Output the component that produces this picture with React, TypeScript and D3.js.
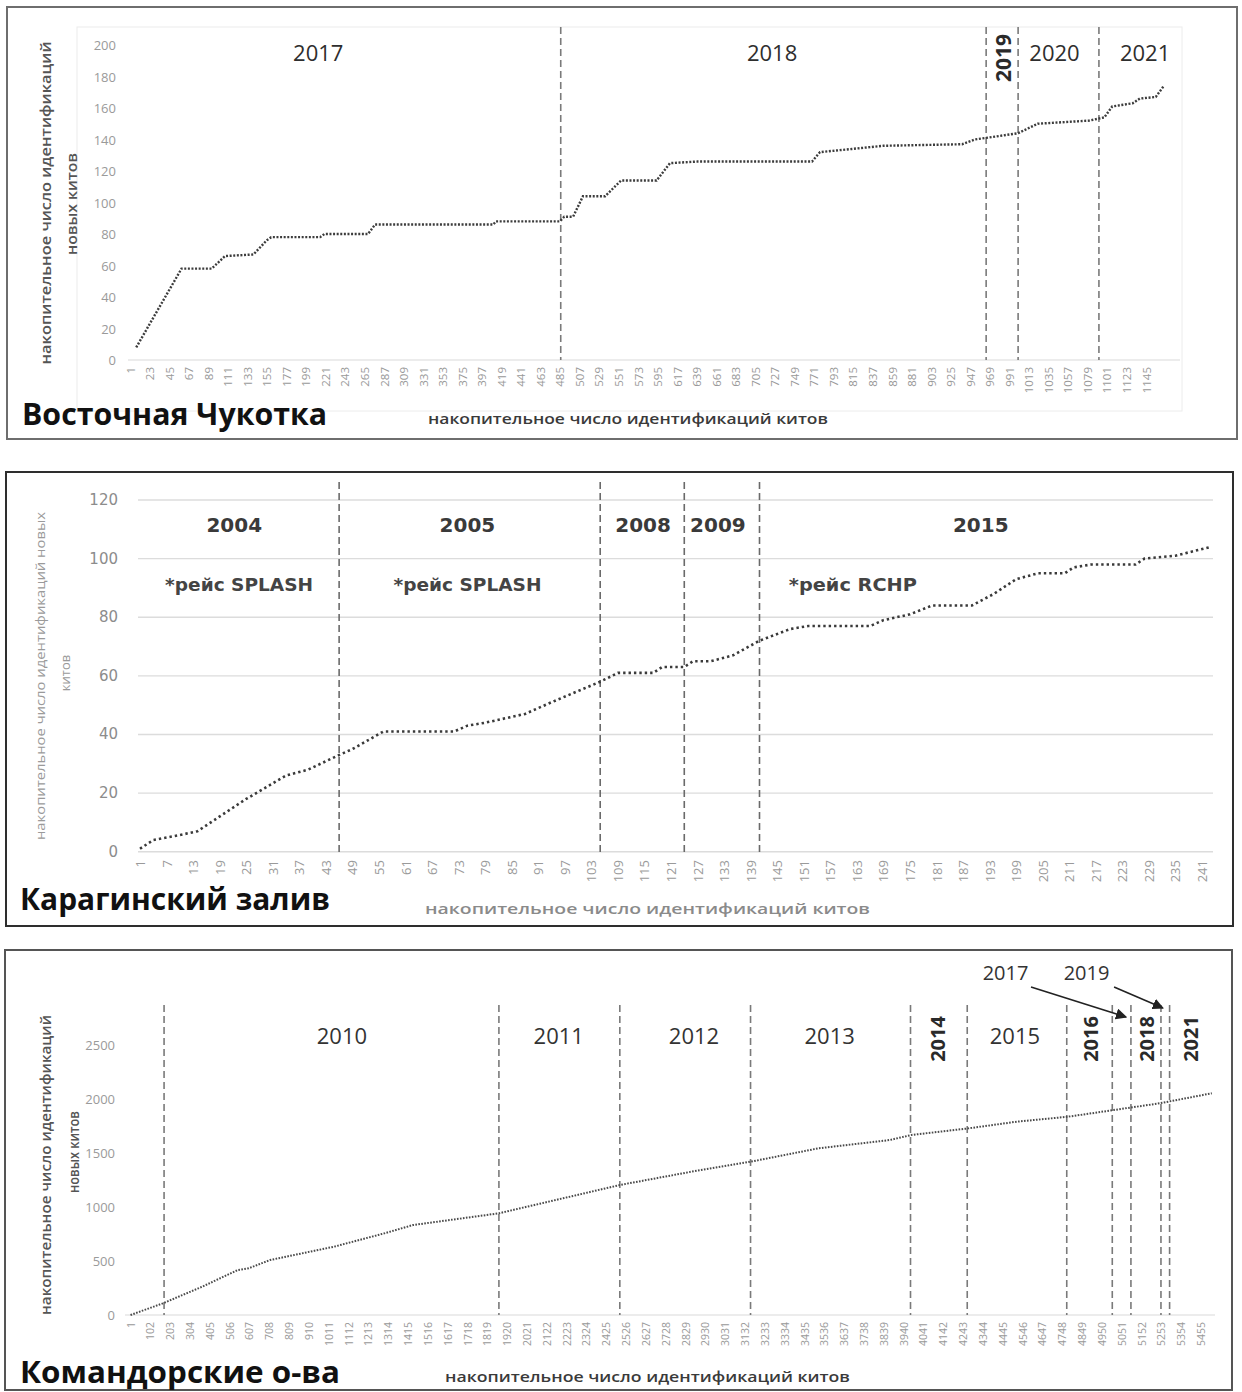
import React from 'react';
import * as d3 from 'd3';

// ---------- DATA ----------
// Восточная Чукотка: vertices of the cumulative curve (category index, value)
const chukCats = [8, 59, 93, 108, 140, 155, 160, 215, 220, 269, 277, 410, 413, 485, 490, 500, 511, 536, 554, 594, 609, 640, 769, 778, 814, 849, 938, 952, 965, 1001, 1023, 1081, 1098, 1107, 1130, 1138, 1156, 1165];
const chukVals = [8, 58, 58, 66, 67, 76, 78, 78, 80, 80, 86, 86, 88, 88, 91, 91, 104, 104, 114, 114, 125, 126, 126, 132, 134, 136, 137, 140, 141, 144, 150, 152, 154, 161, 163, 166, 167, 174];
const chukXTicks = [1, 23, 45, 67, 89, 111, 133, 155, 177, 199, 221, 243, 265, 287, 309, 331, 353, 375, 397, 419, 441, 463, 485, 507, 529, 551, 573, 595, 617, 639, 661, 683, 705, 727, 749, 771, 793, 815, 837, 859, 881, 903, 925, 947, 969, 991, 1013, 1035, 1057, 1079, 1101, 1123, 1145];
const chukYTicks = [0, 20, 40, 60, 80, 100, 120, 140, 160, 180, 200];
const chukYearLines = [486, 965, 1001, 1092];
const chukYearText = ['2017', '2018', '2019', '2020', '2021'];
const chukYearCats = [213, 724, 984, 1042, 1144];
const chukYearRot = [false, false, true, false, false];

// Карагинский залив
const karCats = [1, 4, 11, 14, 25, 34, 39, 46, 49, 56, 72, 75, 79, 88, 94, 105, 109, 117, 119, 124, 126, 130, 135, 141, 148, 152, 166, 169, 175, 180, 189, 194, 199, 204, 210, 212, 216, 226, 228, 235, 243];
const karVals = [1, 4, 6, 7, 18, 26, 28, 33, 35, 41, 41, 43, 44, 47, 51, 58, 61, 61, 63, 63, 65, 65, 67, 72, 76, 77, 77, 79, 81, 84, 84, 88, 93, 95, 95, 97, 98, 98, 100, 101, 104];
const karXTicks = [1, 7, 13, 19, 25, 31, 37, 43, 49, 55, 61, 67, 73, 79, 85, 91, 97, 103, 109, 115, 121, 127, 133, 139, 145, 151, 157, 163, 169, 175, 181, 187, 193, 199, 205, 211, 217, 223, 229, 235, 241];
const karYTicks = [0, 20, 40, 60, 80, 100, 120];
const karYearLines = [46, 105, 124, 141];
const karYearText = ['2004', '2005', '2008', '2009', '2015'];
const karYearCats = [22.3, 75, 114.7, 131.6, 191];
const karCruiseText = ['*рейс SPLASH', '*рейс SPLASH', '*рейс RCHP'];
const karCruiseCats = [23.4, 75, 162.1];
const karCruiseLen = [148, 148, 128];

// Командорские о-ва
const komCats = [1, 166, 366, 548, 603, 712, 1039, 1294, 1440, 1876, 2495, 2859, 3162, 3505, 3869, 3980, 4270, 4516, 4778, 5011, 5244, 5510];
const komVals = [0, 108, 262, 417, 432, 509, 633, 756, 833, 941, 1204, 1327, 1420, 1543, 1620, 1667, 1728, 1790, 1836, 1898, 1960, 2053];
const komXTicks = [1, 102, 203, 304, 405, 506, 607, 708, 809, 910, 1011, 1112, 1213, 1314, 1415, 1516, 1617, 1718, 1819, 1920, 2021, 2122, 2223, 2324, 2425, 2526, 2627, 2728, 2829, 2930, 3031, 3132, 3233, 3334, 3435, 3536, 3637, 3738, 3839, 3940, 4041, 4142, 4243, 4344, 4445, 4546, 4647, 4748, 4849, 4950, 5051, 5152, 5253, 5354, 5455];
const komYTicks = [0, 500, 1000, 1500, 2000, 2500];
const komYearLines = [172, 1878, 2494, 3160, 3975, 4264, 4771, 5003, 5098, 5251, 5295];
const komYearText = ['2010', '2011', '2012', '2013', '2014', '2015', '2016', '2018', '2021'];
const komYearCats = [1078, 2183, 2872, 3563, 4115, 4507, 4892, 5175, 5404];
const komYearRot = [false, false, false, false, true, false, true, true, true];

const OS = '"Open Sans", "DejaVu Sans", sans-serif';
const DV = '"DejaVu Sans", sans-serif';

function zip(a: number[], b: number[]): [number, number][] {
  return a.map((v, i) => [v, b[i]] as [number, number]);
}

function VText({ x, y, children, size, fill, weight, family, len }: any) {
  return (
    <text
      transform={`translate(${x},${y}) rotate(-90)`}
      textAnchor="middle"
      dominantBaseline="central"
      fontSize={size}
      fill={fill}
      fontWeight={weight}
      fontFamily={family}
      textLength={len}
      lengthAdjust={len ? 'spacingAndGlyphs' : undefined}
    >
      {children}
    </text>
  );
}

function XTicks({ ticks, x, y0, size, fill }: any) {
  return (
    <g>
      {ticks.map((t: number) => (
        <text
          key={t}
          transform={`translate(${x(t)},${y0}) rotate(-90)`}
          textAnchor="end"
          dominantBaseline="central"
          fontSize={size}
          fill={fill}
          fontFamily={OS}
        >
          {t}
        </text>
      ))}
    </g>
  );
}

function YTicks({ ticks, y, x0, size, fill, family }: any) {
  return (
    <g>
      {ticks.map((t: number) => (
        <text
          key={t}
          x={x0}
          y={y(t)}
          textAnchor="end"
          dominantBaseline="central"
          fontSize={size}
          fill={fill}
          fontFamily={family}
        >
          {t}
        </text>
      ))}
    </g>
  );
}

function YearLines({ lines, x, y1, y2, color }: any) {
  return (
    <g>
      {lines.map((c: number) => (
        <line
          key={c}
          x1={x(c)}
          x2={x(c)}
          y1={y1}
          y2={y2}
          stroke={color}
          strokeWidth={1.6}
          strokeDasharray="7 4"
        />
      ))}
    </g>
  );
}

function Panel1() {
  const x = d3.scaleLinear().domain([1, 1145]).range([130, 1146]);
  const y = d3.scaleLinear().domain([0, 200]).range([360, 45]);
  const line = d3.line<[number, number]>().x((d) => x(d[0])).y((d) => y(d[1]));
  return (
    <g>
      <rect x={7} y={7} width={1230} height={432} fill="#fff" stroke="#6e6e6e" strokeWidth={2} />
      <rect x={77} y={27} width={1105} height={384} fill="none" stroke="#ececec" strokeWidth={1} />
      <line x1={128} x2={1180} y1={y(0)} y2={y(0)} stroke="#dadada" strokeWidth={1.2} />
      <YTicks ticks={chukYTicks} y={y} x0={116} size={13} fill="#9a9a9a" family={OS} />
      <XTicks ticks={chukXTicks} x={x} y0={367} size={11.5} fill="#999" />
      <YearLines lines={chukYearLines} x={x} y1={27} y2={360} color="#7a7a7a" />
      <path d={line(zip(chukCats, chukVals)) || ''} fill="none" stroke="#3c3c3c" strokeWidth={2.4} strokeDasharray="2 1.6" />
      {chukYearText.map((t, i) =>
        chukYearRot[i] ? (
          <VText key={t} x={x(chukYearCats[i])} y={y(191.7)} size={21} fill="#2a2a2a" weight={700} family={OS}>
            {t}
          </VText>
        ) : (
          <text key={t} x={x(chukYearCats[i])} y={y(195.6)} textAnchor="middle" dominantBaseline="central" fontSize={22} fill="#2e2e2e" fontFamily={OS}>
            {t}
          </text>
        )
      )}
      <VText x={45} y={203} size={15} fill="#555" weight={600} family={OS} len={323}>
        накопительное число идентификаций
      </VText>
      <VText x={71} y={204} size={15} fill="#555" weight={600} family={OS} len={102}>
        новых китов
      </VText>
      <text x={428} y={418} dominantBaseline="central" fontSize={14} fontWeight={600} fill="#3a3a3a" fontFamily={OS} textLength={400} lengthAdjust="spacingAndGlyphs">
        накопительное число идентификаций китов
      </text>
      <text x={22} y={425} fontSize={31} fontWeight={700} fill="#111" fontFamily={OS} textLength={305} lengthAdjust="spacingAndGlyphs">
        Восточная Чукотка
      </text>
    </g>
  );
}

function Panel2() {
  const x = d3.scaleLinear().domain([1, 241]).range([140, 1202]);
  const y = d3.scaleLinear().domain([0, 120]).range([851.7, 500]);
  const line = d3.line<[number, number]>().x((d) => x(d[0])).y((d) => y(d[1]));
  return (
    <g>
      <rect x={6} y={472} width={1227} height={454} fill="#fff" stroke="#2e2e2e" strokeWidth={2} />
      {karYTicks.map((t) => (
        <line key={t} x1={138} x2={1213} y1={y(t)} y2={y(t)} stroke="#dcdcdc" strokeWidth={1.4} />
      ))}
      <YTicks ticks={karYTicks} y={y} x0={118} size={15} fill="#8c8c8c" family={DV} />
      <XTicks ticks={karXTicks} x={x} y0={860} size={13} fill="#9a9a9a" />
      <YearLines lines={karYearLines} x={x} y1={482} y2={852} color="#6a6a6a" />
      <path d={line(zip(karCats, karVals)) || ''} fill="none" stroke="#3a3a3a" strokeWidth={2.6} strokeDasharray="2.4 3" />
      {karYearText.map((t, i) => (
        <text key={t} x={x(karYearCats[i])} y={y(111.5)} textAnchor="middle" dominantBaseline="central" fontSize={20} fontWeight={700} fill="#3a3a3a" fontFamily={DV}>
          {t}
        </text>
      ))}
      {karCruiseText.map((t, i) => (
        <text key={i} x={x(karCruiseCats[i])} y={y(91)} textAnchor="middle" dominantBaseline="central" fontSize={17} fontWeight={700} fill="#444" fontFamily={DV} textLength={karCruiseLen[i]} lengthAdjust="spacingAndGlyphs">
          {t}
        </text>
      ))}
      <VText x={40} y={676} size={13} fill="#9a9a9a" family={OS} len={328}>
        накопительное  число идентификаций   новых
      </VText>
      <VText x={65} y={673} size={13} fill="#9a9a9a" family={OS}>
        китов
      </VText>
      <text x={425} y={908} dominantBaseline="central" fontSize={14} fontWeight={600} fill="#8a8a8a" fontFamily={OS} textLength={445} lengthAdjust="spacingAndGlyphs">
        накопительное  число идентификаций  китов
      </text>
      <text x={20} y={910} fontSize={31} fontWeight={700} fill="#111" fontFamily={OS} textLength={310} lengthAdjust="spacingAndGlyphs">
        Карагинский залив
      </text>
    </g>
  );
}

function Panel3() {
  const x = d3.scaleLinear().domain([1, 5455]).range([130.5, 1201]);
  const y = d3.scaleLinear().domain([0, 2500]).range([1315, 1045]);
  const line = d3.line<[number, number]>().x((d) => x(d[0])).y((d) => y(d[1]));
  return (
    <g>
      <defs>
        <marker id="arr" viewBox="0 0 10 10" refX="9" refY="5" markerWidth="7" markerHeight="7" orient="auto">
          <path d="M0,0 L10,5 L0,10 z" fill="#222" />
        </marker>
      </defs>
      <rect x={5} y={950} width={1227} height={440} fill="#fff" stroke="#555" strokeWidth={2} />
      <line x1={125} x2={1215} y1={y(0)} y2={y(0)} stroke="#dadada" strokeWidth={1.2} />
      <YTicks ticks={komYTicks} y={y} x0={115} size={13} fill="#9a9a9a" family={OS} />
      <XTicks ticks={komXTicks} x={x} y0={1322} size={10.5} fill="#999" />
      <YearLines lines={komYearLines} x={x} y1={1005} y2={1315} color="#7a7a7a" />
      <path d={line(zip(komCats, komVals)) || ''} fill="none" stroke="#4a4a4a" strokeWidth={2} strokeDasharray="1.6 1.4" />
      {komYearText.map((t, i) =>
        komYearRot[i] ? (
          <VText key={t} x={x(komYearCats[i])} y={y(2556)} size={20} fill="#2a2a2a" weight={700} family={OS}>
            {t}
          </VText>
        ) : (
          <text key={t} x={x(komYearCats[i])} y={y(2593)} textAnchor="middle" dominantBaseline="central" fontSize={22} fill="#333" fontFamily={OS}>
            {t}
          </text>
        )
      )}
      <text x={x(4459)} y={y(3167)} textAnchor="middle" dominantBaseline="central" fontSize={20} fill="#333" fontFamily={OS}>2017</text>
      <text x={x(4872)} y={y(3167)} textAnchor="middle" dominantBaseline="central" fontSize={20} fill="#333" fontFamily={OS}>2019</text>
      <line x1={x(4589)} y1={y(3037)} x2={x(5073)} y2={y(2759)} stroke="#222" strokeWidth={1.6} markerEnd="url(#arr)" />
      <line x1={x(5012)} y1={y(3037)} x2={x(5261)} y2={y(2843)} stroke="#222" strokeWidth={1.6} markerEnd="url(#arr)" />
      <VText x={45} y={1165} size={14} fill="#555" weight={600} family={OS} len={300}>
        накопительное число идентификаций
      </VText>
      <VText x={73} y={1152} size={14} fill="#555" weight={600} family={OS} len={82}>
        новых китов
      </VText>
      <text x={445} y={1377} dominantBaseline="central" fontSize={13.5} fontWeight={600} fill="#3a3a3a" fontFamily={OS} textLength={405} lengthAdjust="spacingAndGlyphs">
        накопительное число идентификаций китов
      </text>
      <text x={20} y={1383} fontSize={31} fontWeight={700} fill="#111" fontFamily={OS} textLength={320} lengthAdjust="spacingAndGlyphs">
        Командорские о-ва
      </text>
    </g>
  );
}

export default function App() {
  return (
    <svg
      width={1242}
      height={1392}
      viewBox="0 0 1242 1392"
      style={{ position: 'absolute', left: 0, top: 0, background: '#fff', display: 'block' }}
    >
      <rect x={0} y={0} width={1242} height={1392} fill="#fff" />
      <Panel1 />
      <Panel2 />
      <Panel3 />
    </svg>
  );
}
